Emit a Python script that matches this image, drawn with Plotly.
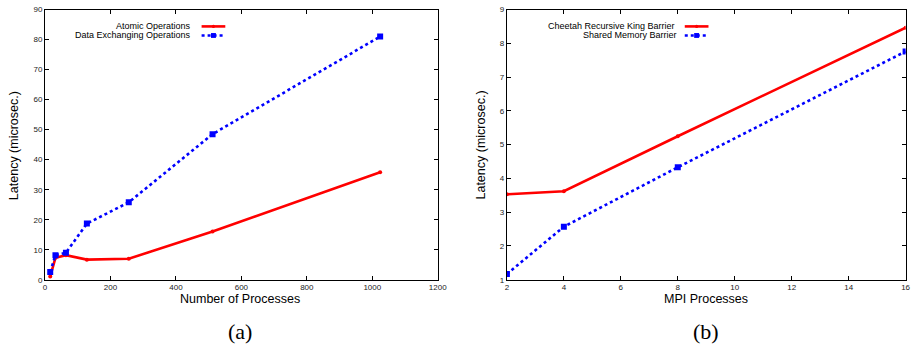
import plotly.graph_objects as go

# (a) latency vs number of processes
procs_a = [16, 32, 64, 128, 256, 512, 1024]
atomic_ops = [1.1, 7.3, 8.2, 6.7, 7.0, 16.1, 35.8]
data_exch_ops = [2.6, 8.2, 9.0, 18.7, 25.8, 48.5, 81.0]

# (b) barrier latency vs MPI processes
procs_b = [2, 4, 8, 16]
cheetah_barrier = [3.53, 3.62, 5.25, 8.46]
shm_barrier = [1.17, 2.57, 4.33, 7.76]

RED = "#ff0000"
BLUE = "#0000ff"
W, H = 923, 352

fig = go.Figure()

def add_series(x, y, name, color, dash, symbol, size, xa, ya):
    fig.add_trace(go.Scatter(
        x=x, y=y, name=name, mode="lines+markers",
        line=dict(color=color, width=2.6, dash=dash),
        marker=dict(color=color, symbol=symbol, size=size),
        xaxis=xa, yaxis=ya, showlegend=False,
    ))

add_series(procs_a, atomic_ops, "Atomic Operations", RED, "solid", "circle", 4, "x", "y")
add_series(procs_a, data_exch_ops, "Data Exchanging Operations", BLUE, "dot", "square", 6, "x", "y")
add_series(procs_b, cheetah_barrier, "Cheetah Recursive King Barrier", RED, "solid", "circle", 4, "x2", "y2")
add_series(procs_b, shm_barrier, "Shared Memory Barrier", BLUE, "dot", "square", 6, "x2", "y2")

def px(x):
    return x / W

def py(y):
    return 1 - y / H

tick_font = dict(family="Liberation Sans, Arial, sans-serif", size=8, color="#222")
axis_common = dict(
    showgrid=False, zeroline=False, showline=True, linecolor="black", linewidth=1,
    mirror="allticks", ticks="inside", ticklen=4, tickcolor="black",
    tickfont=tick_font,
)

fig.update_layout(
    width=W, height=H,
    margin=dict(l=0, r=0, t=0, b=0),
    paper_bgcolor="white", plot_bgcolor="white",
    xaxis=dict(domain=[px(43.5), px(441)], range=[0, 1200], dtick=200, anchor="y", **axis_common),
    yaxis=dict(domain=[py(283), py(5.7)], range=[0, 90], dtick=10, anchor="x", **axis_common),
    xaxis2=dict(domain=[px(511), px(914.5)], range=[2, 16], dtick=2, anchor="y2", **axis_common),
    yaxis2=dict(domain=[py(283), py(5.7)], range=[1, 9], dtick=1, anchor="x2", **axis_common),
)

title_font = dict(family="Liberation Sans, Arial, sans-serif", size=12.5, color="black")
cap_font = dict(family="Liberation Serif, DejaVu Serif, serif", size=22, color="black")
leg_font = dict(family="Liberation Sans, Arial, sans-serif", size=9, color="black")

ann = []
# axis titles
ann.append(dict(text="Number of Processes", x=px(241), y=py(303), font=title_font))
ann.append(dict(text="MPI Processes", x=px(712), y=py(303), font=title_font))
ann.append(dict(text="Latency (microsec.)", x=px(12), y=py(145), textangle=-90, font=title_font))
ann.append(dict(text="Latency (microsec.)", x=px(485), y=py(145), textangle=-90, font=title_font))
# panel captions
ann.append(dict(text="(a)", x=px(241), y=py(336), font=cap_font))
ann.append(dict(text="(b)", x=px(712), y=py(336), font=cap_font))

shapes = []

def legend_entry(text, text_right, x0, x1, yc, color, dash, square):
    ann.append(dict(text=text, x=px(text_right), y=py(yc), xanchor="right", font=leg_font))
    shapes.append(dict(type="line", xref="paper", yref="paper",
                       x0=px(x0), x1=px(x1), y0=py(yc), y1=py(yc),
                       line=dict(color=color, width=2.6, dash=dash)))
    xm = (x0 + x1) / 2
    r = 2.5 if square else 1.6
    shapes.append(dict(type="rect" if square else "circle", xref="paper", yref="paper",
                       x0=px(xm - r), x1=px(xm + r), y0=py(yc + r), y1=py(yc - r),
                       fillcolor=color, line=dict(color=color, width=0)))

legend_entry("Atomic Operations", 193, 202, 226, 23, RED, "solid", False)
legend_entry("Data Exchanging Operations", 193, 202, 226, 32.3, BLUE, "dot", True)
legend_entry("Cheetah Recursive King Barrier", 683.5, 691, 715, 23, RED, "solid", False)
legend_entry("Shared Memory Barrier", 685, 691, 715, 32.3, BLUE, "dot", True)

for a in ann:
    a.update(xref="paper", yref="paper", showarrow=False)
    a.setdefault("xanchor", "center")
    a.setdefault("yanchor", "middle")

fig.update_layout(annotations=ann, shapes=shapes)

fig.write_html("out.html")
